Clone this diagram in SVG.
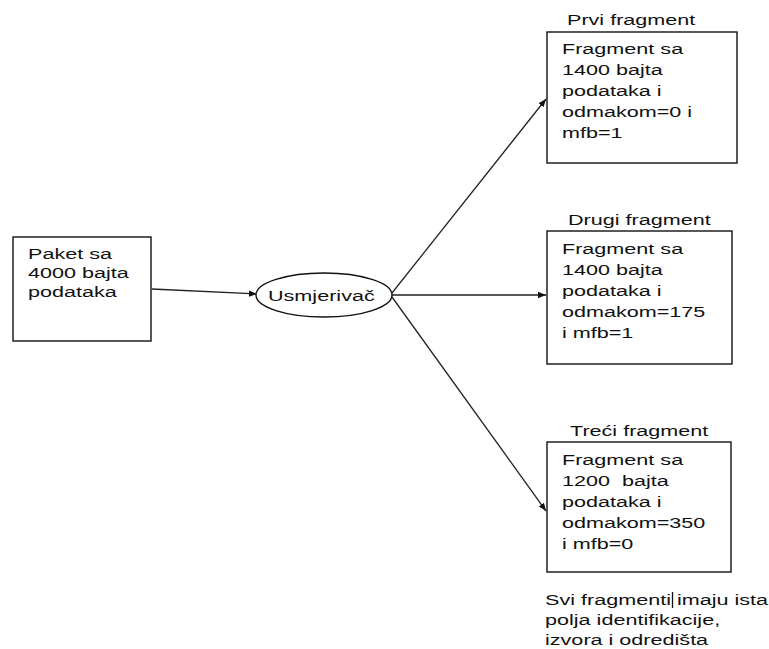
<svg xmlns="http://www.w3.org/2000/svg" width="769" height="649" viewBox="0 0 769 649">
<defs>
<style>
.box{fill:#fff;stroke:#111;stroke-width:1.4}
.t{font-family:"Liberation Sans",Arial,sans-serif;font-size:15px;fill:#111}
.edge{stroke:#222;stroke-width:1.3;fill:none;marker-end:url(#ah)}
</style>
<marker id="ah" viewBox="0 0 10 10" refX="10" refY="5" markerWidth="8" markerHeight="8" markerUnits="userSpaceOnUse" orient="auto">
<path d="M0,1 L10,5 L0,9 z" fill="#111"/>
</marker>
</defs>
<rect width="769" height="649" fill="#fff"/>
<g id="connectors">
<line class="edge" x1="152" y1="289" x2="257" y2="294"/>
<line class="edge" x1="392" y1="293" x2="546" y2="99"/>
<line class="edge" x1="392" y1="295" x2="546" y2="295"/>
<line class="edge" x1="392" y1="297" x2="546" y2="511"/>
</g>
<g id="paket">
<rect class="box" x="13" y="237" width="138" height="104"/>
<g transform="translate(28,0) scale(1.44,1)">
<text class="t" x="0" y="259">Paket sa</text>
<text class="t" x="0" y="278">4000 bajta</text>
<text class="t" x="0" y="297">podataka</text>
</g>
</g>
<g id="usmjerivac">
<ellipse cx="324" cy="295" rx="68" ry="22" fill="#fff" stroke="#111" stroke-width="1.4"/>
<g transform="translate(268,0) scale(1.44,1)">
<text class="t" x="0" y="301">Usmjerivač</text>
</g>
</g>
<g id="prvi">
<g transform="translate(567,0) scale(1.44,1)"><text class="t" x="0" y="25">Prvi fragment</text></g>
<rect class="box" x="547" y="32" width="190" height="131"/>
<g transform="translate(562,0) scale(1.44,1)">
<text class="t" x="0" y="54">Fragment sa</text>
<text class="t" x="0" y="75">1400 bajta</text>
<text class="t" x="0" y="96">podataka i</text>
<text class="t" x="0" y="117">odmakom=0 i</text>
<text class="t" x="0" y="138">mfb=1</text>
</g>
</g>
<g id="drugi">
<g transform="translate(568,0) scale(1.44,1)"><text class="t" x="0" y="225">Drugi fragment</text></g>
<rect class="box" x="547" y="231" width="185" height="133"/>
<g transform="translate(562,0) scale(1.44,1)">
<text class="t" x="0" y="254">Fragment sa</text>
<text class="t" x="0" y="275">1400 bajta</text>
<text class="t" x="0" y="296">podataka i</text>
<text class="t" x="0" y="317">odmakom=175</text>
<text class="t" x="0" y="338">i mfb=1</text>
</g>
</g>
<g id="treci">
<g transform="translate(570,0) scale(1.44,1)"><text class="t" x="0" y="436">Treći fragment</text></g>
<rect class="box" x="547" y="442" width="184" height="130"/>
<g transform="translate(562,0) scale(1.44,1)">
<text class="t" x="0" y="465">Fragment sa</text>
<text class="t" x="0" y="486" xml:space="preserve">1200  bajta</text>
<text class="t" x="0" y="507">podataka i</text>
<text class="t" x="0" y="528">odmakom=350</text>
<text class="t" x="0" y="549">i mfb=0</text>
</g>
</g>
<g id="napomena">
<g transform="translate(545,0) scale(1.44,1)">
<text class="t" x="0" y="605">Svi fragmenti imaju ista</text>
<text class="t" x="0" y="625">polja identifikacije,</text>
<text class="t" x="0" y="645">izvora i odredišta</text>
</g>
<line x1="672.5" y1="592" x2="672.5" y2="608" stroke="#111" stroke-width="1.3"/>
</g>
</svg>
